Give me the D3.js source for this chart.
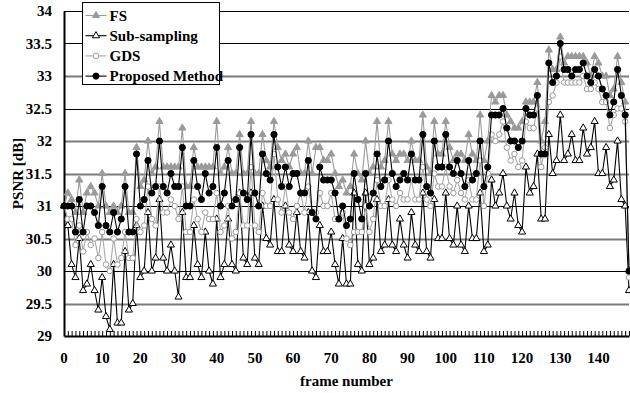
<!DOCTYPE html>
<html>
<head>
<meta charset="utf-8">
<script src="https://cdn.jsdelivr.net/npm/d3@7"></script>
<style>
  body { margin: 0; background: #fff; }
  svg text { font-family: "Liberation Serif", "Times New Roman", serif; font-weight: bold; }
</style>
</head>
<body>
<div id="chart"></div>
<script>
// PSNR per frame
const frames = d3.range(0, 149);
const xTicks = [0, 10, 20, 30, 40, 50, 60, 70, 80, 90, 100, 110, 120, 130, 140];
const yTicks = [29, 29.5, 30, 30.5, 31, 31.5, 32, 32.5, 33, 33.5, 34];

const fsValues = [
  31.0, 31.2, 31.1, 30.9, 31.4, 30.9, 31.2, 31.3, 31.2, 31.0,
  31.5, 31.0, 30.9, 31.0, 30.9, 31.0, 31.5, 30.9, 30.9, 31.9,
  31.3, 31.4, 32.0, 31.5, 31.6, 32.3, 31.6, 31.6, 31.6, 31.6,
  31.6, 32.2, 31.3, 31.3, 31.9, 31.6, 31.6, 31.6, 31.6, 31.6,
  32.3, 31.5, 31.6, 31.9, 31.5, 31.5, 32.1, 31.5, 31.5, 32.3,
  31.5, 31.5, 32.1, 31.7, 31.6, 32.3, 31.9, 31.7, 31.8, 31.6,
  31.8, 31.9, 31.5, 31.5, 32.0, 31.5, 31.9, 31.9, 31.7, 31.7,
  31.8, 31.5, 31.3, 31.4, 31.2, 31.3, 31.8, 31.5, 31.4, 32.0,
  31.5, 31.6, 32.3, 31.6, 31.7, 32.3, 31.8, 31.7, 31.8, 31.8,
  31.7, 32.0, 31.7, 31.7, 32.4, 31.6, 31.5, 32.3, 31.8, 31.8,
  32.3, 31.9, 31.7, 31.8, 31.8, 31.7, 32.1, 31.8, 31.7, 32.4,
  31.7, 32.0, 32.7, 32.6, 32.7, 32.7, 32.4, 32.3, 32.2, 32.2,
  32.3, 32.6, 32.6, 32.6, 32.9, 32.0, 32.3, 33.4, 33.1, 33.1,
  33.6, 33.2, 33.3, 33.3, 33.3, 33.3, 33.3, 33.2, 33.0, 33.3,
  33.2, 33.0, 33.0, 32.7, 32.8, 33.3, 32.9, 32.6, 30.0,
];

const subValues = [
  31.0, 30.7, 30.1, 29.9, 30.5, 29.7, 29.8, 30.1, 29.7, 29.4,
  29.9, 29.3, 29.1, 30.1, 29.2, 29.2, 30.3, 29.4, 29.5, 30.7,
  29.9, 30.0, 30.9, 30.0, 30.2, 31.1, 30.2, 30.0, 30.4, 30.0,
  29.6, 30.9, 29.9, 29.9, 30.7, 30.1, 29.9, 30.6, 30.0, 29.8,
  30.8, 29.9, 30.1, 30.8, 30.1, 30.0, 31.2, 30.2, 30.1, 31.2,
  30.2, 30.1, 31.0, 30.5, 30.4, 31.1, 30.3, 30.3, 31.0, 30.4,
  30.3, 30.9, 30.3, 30.2, 30.9, 30.0, 29.9, 30.7, 30.3, 30.3,
  30.6, 30.1, 29.8, 30.5, 29.8, 29.8, 31.2, 30.1, 30.0, 31.2,
  30.1, 30.2, 31.1, 30.3, 30.4, 31.1, 30.4, 30.3, 30.8, 30.4,
  30.2, 30.9, 30.4, 30.3, 31.2, 30.3, 30.2, 31.1, 30.5, 30.5,
  31.2, 30.5, 30.4, 31.0, 30.4, 30.3, 31.0, 30.5, 30.5, 31.2,
  30.3, 30.4, 31.4, 31.0, 31.2, 31.5, 31.0, 30.8, 31.2, 30.7,
  30.6, 31.6, 31.2, 31.3, 31.8, 30.8, 30.8, 32.1, 31.5, 31.7,
  32.4, 31.7, 31.8, 32.1, 31.7, 31.7, 32.2, 31.8, 31.9, 32.3,
  31.5, 31.5, 31.9, 31.3, 31.4, 32.0, 31.1, 31.0, 29.7,
];

const gdsValues = [
  31.0, 30.8, 30.8, 30.4, 30.7, 30.3, 30.6, 30.4, 30.5, 30.2,
  30.6, 30.1, 30.0, 30.5, 30.1, 30.2, 30.6, 30.2, 30.2, 30.8,
  30.6, 30.7, 31.3, 30.8, 30.7, 31.3, 30.9, 30.9, 31.1, 31.0,
  30.8, 31.3, 30.6, 30.6, 31.1, 30.8, 30.6, 30.9, 30.8, 30.8,
  31.2, 30.6, 30.7, 31.0, 30.5, 30.6, 31.2, 30.7, 30.7, 31.6,
  30.7, 30.6, 31.2, 31.0, 31.0, 31.8, 31.1, 30.9, 31.3, 30.9,
  30.8, 31.0, 31.2, 30.9, 31.3, 30.9, 30.9, 31.2, 31.0, 31.0,
  31.2, 30.8, 30.8, 30.9, 30.5, 30.4, 30.6, 30.6, 30.6, 31.0,
  30.6, 30.8, 31.4, 31.0, 31.0, 31.4, 31.1, 31.0, 31.2, 31.1,
  31.1, 31.4, 31.1, 31.1, 31.6, 31.1, 31.0, 31.5, 31.3, 31.3,
  31.6, 31.3, 31.2, 31.4, 31.2, 31.1, 31.4, 31.1, 31.1, 31.7,
  31.0, 31.5, 32.1, 32.0, 32.1, 32.3, 31.9, 31.7, 31.8, 31.6,
  31.7, 32.3, 32.2, 32.2, 32.5, 31.6, 31.9, 32.6, 32.7, 32.9,
  33.3, 32.9, 32.9, 32.9, 32.9, 32.9, 33.0, 32.8, 32.8, 32.9,
  32.8, 32.6, 32.6, 32.2, 32.4, 32.5, 32.5, 32.3, 29.9,
];

const proposedValues = [
  31.0, 31.0, 31.0, 30.6, 31.1, 30.6, 31.0, 31.0, 30.9, 30.7,
  31.3, 30.7, 30.6, 30.9, 30.6, 30.8, 31.3, 30.6, 30.6, 31.8,
  31.0, 31.1, 31.7, 31.2, 31.3, 32.0, 31.3, 31.2, 31.5, 31.3,
  31.3, 31.9, 31.0, 31.0, 31.7, 31.3, 31.1, 31.5, 31.2, 31.3,
  31.9, 31.0, 31.2, 31.7, 31.0, 31.1, 31.9, 31.2, 31.1, 32.1,
  31.2, 31.0, 31.8, 31.5, 31.4, 32.1, 31.6, 31.3, 31.6, 31.3,
  31.5, 31.5, 31.2, 31.2, 31.7, 30.9, 30.8, 31.6, 31.4, 31.4,
  31.4, 31.2, 30.8, 31.0, 30.7, 30.8, 31.5, 31.1, 30.8, 31.5,
  31.0, 31.2, 31.8, 31.3, 31.4, 32.0, 31.5, 31.3, 31.4, 31.5,
  31.4, 31.8, 31.4, 31.4, 32.1, 31.3, 31.2, 32.0, 31.6, 31.6,
  32.1, 31.6, 31.5, 31.7, 31.5, 31.3, 31.7, 31.4, 31.5, 32.0,
  31.3, 31.6, 32.4, 32.4, 32.4, 32.5, 32.2, 32.0, 32.0, 31.9,
  32.0, 32.5, 32.4, 32.4, 32.7, 31.8, 31.8, 33.2, 32.9, 33.0,
  33.5, 33.1, 33.1, 33.0, 33.1, 33.1, 33.2, 33.0, 32.9, 33.1,
  33.0, 32.8, 32.7, 32.4, 32.6, 33.1, 32.7, 32.4, 30.0,
];

const seriesNames = ["FS", "Sub-sampling", "GDS", "Proposed Method"];

const width = 630;
const height = 393;
const margin = { top: 11, right: 1, bottom: 57, left: 64 };

const x = d3.scaleLinear().domain([0, 148]).range([margin.left, width - margin.right]);
const y = d3.scaleLinear().domain([29, 34]).range([height - margin.bottom, margin.top]);

// per-series look: gray/black lines, filled or hollow markers
const styles = [
  { line: "#9a9a9a", symbol: d3.symbolTriangle, size: 22, fill: "#9a9a9a", stroke: "#9a9a9a" },
  { line: "#000000", symbol: d3.symbolTriangle, size: 22, fill: "#ffffff", stroke: "#000000" },
  { line: "#a8a8a8", symbol: d3.symbolCircle, size: 24, fill: "#ffffff", stroke: "#9a9a9a" },
  { line: "#000000", symbol: d3.symbolCircle, size: 30, fill: "#000000", stroke: "#000000" },
];
const allValues = [fsValues, subValues, gdsValues, proposedValues];

const svg = d3
  .select("#chart")
  .append("svg")
  .attr("width", width)
  .attr("height", height);

// horizontal gridlines: every half dB, alternate dark / gray as in the scan
svg
  .append("g")
  .selectAll("line")
  .data(yTicks.filter((d) => d > 29))
  .join("line")
  .attr("x1", margin.left)
  .attr("x2", width - margin.right)
  .attr("y1", (d) => Math.round(y(d)) + 0.5)
  .attr("y2", (d) => Math.round(y(d)) + 0.5)
  .attr("stroke", (d) => ([33, 32, 31.5, 30.5, 29.5].includes(d) ? "#7a7a7a" : "#000"))
  .attr("stroke-width", (d) => ([33, 32, 31.5, 30.5, 29.5].includes(d) ? 2 : 1.2));

// y axis: labels only, plus the axis line
const yAxis = svg
  .append("g")
  .attr("transform", `translate(${margin.left},0)`)
  .call(d3.axisLeft(y).tickValues(yTicks).tickSize(0).tickPadding(12).tickFormat(d3.format("")));
yAxis.select(".domain").attr("stroke", "#000").attr("stroke-width", 2);
yAxis.selectAll("text").attr("font-size", 15).attr("fill", "#000");

// x axis: a tick every frame, pointing up into the plot
const xAxis = svg
  .append("g")
  .attr("transform", `translate(0,${y(29)})`)
  .call(d3.axisBottom(x).tickValues(frames).tickSize(-5).tickSizeOuter(0).tickFormat(""));
xAxis.select(".domain").attr("stroke", "#000").attr("stroke-width", 2);
xAxis.selectAll(".tick line").attr("stroke", "#000").attr("stroke-width", 1);

svg
  .append("g")
  .selectAll("text")
  .data(xTicks)
  .join("text")
  .attr("x", (d) => x(d))
  .attr("y", y(29) + 27)
  .attr("text-anchor", "middle")
  .attr("font-size", 15)
  .text((d) => d);

svg
  .append("text")
  .attr("x", (x(0) + x(148)) / 2)
  .attr("y", 386)
  .attr("text-anchor", "middle")
  .attr("font-size", 15)
  .text("frame number");

svg
  .append("text")
  .attr("transform", `translate(23,${(y(29) + y(34)) / 2}) rotate(-90)`)
  .attr("text-anchor", "middle")
  .attr("font-size", 15)
  .text("PSNR [dB]");

// series, drawn in legend order so the proposed method sits on top
const line = d3
  .line()
  .x((d, i) => x(frames[i]))
  .y((d) => y(d));

allValues.forEach((values, k) => {
  const s = styles[k];
  const g = svg.append("g");
  g.append("path")
    .attr("d", line(values))
    .attr("fill", "none")
    .attr("stroke", s.line)
    .attr("stroke-width", 1.1);
  g.selectAll("path.mark")
    .data(values)
    .join("path")
    .attr("class", "mark")
    .attr("transform", (d, i) => `translate(${x(frames[i])},${y(d)})`)
    .attr("d", d3.symbol(s.symbol, s.size))
    .attr("fill", s.fill)
    .attr("stroke", s.stroke)
    .attr("stroke-width", 1);
});

// legend box over the plot, upper left
const legend = svg.append("g").attr("transform", "translate(82.5,2.5)");
legend
  .append("rect")
  .attr("width", 137)
  .attr("height", 82)
  .attr("fill", "#fff")
  .attr("stroke", "#000")
  .attr("stroke-width", 1);

seriesNames.forEach((name, k) => {
  const s = styles[k];
  const row = legend.append("g").attr("transform", `translate(0,${13 + k * 20.2})`);
  row.append("line")
    .attr("x1", 3).attr("x2", 24)
    .attr("stroke", s.line).attr("stroke-width", 1.1);
  row.append("path")
    .attr("transform", "translate(13.5,0)")
    .attr("d", d3.symbol(s.symbol, s.size))
    .attr("fill", s.fill)
    .attr("stroke", s.stroke);
  row.append("text")
    .attr("x", 27)
    .attr("y", 5)
    .attr("font-size", 15)
    .text(name);
});
</script>
</body>
</html>
